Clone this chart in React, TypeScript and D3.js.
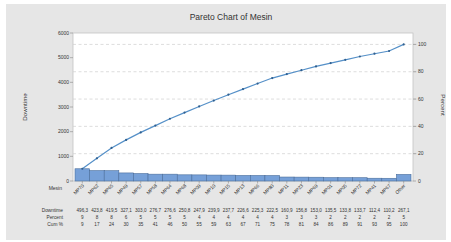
import React from "react";
import * as d3 from "d3";

// data
const categories = [
  "MP70", "MP62", "MP65", "MP49", "MP57", "MP58", "MP64", "MP68", "MP09", "MP10", "MP15", "MP13",
  "MP66", "MP80", "MP11", "MP23", "MP69", "MP01", "MP05", "MP72", "MP41", "MP67", "Other",
];
const downtime = [
  496.3, 423.8, 419.5, 327.1, 303.0, 276.7, 276.6, 250.8, 247.9, 239.9, 237.7, 226.6,
  225.3, 222.5, 160.9, 156.8, 153.0, 135.5, 133.8, 133.7, 112.4, 110.2, 267.1,
];
const percentRow = [9, 8, 8, 6, 5, 5, 5, 5, 4, 4, 4, 4, 4, 4, 3, 3, 3, 2, 2, 2, 2, 2, 5];
const cumRow = [9, 17, 24, 30, 35, 41, 46, 50, 55, 59, 63, 67, 71, 75, 78, 81, 84, 86, 89, 91, 93, 95, 100];
const leftTicks = [0, 1000, 2000, 3000, 4000, 5000, 6000];
const rightTicks = [0, 20, 40, 60, 80, 100];

const W = 451;
const H = 242;
const plot = {left: 73, right: 413, top: 33, bottom: 181};
const font = "'Liberation Sans', Arial, sans-serif";
const textCol = "#333333";

export default function App() {
  const x = d3.scaleBand<string>()
    .domain(categories)
    .range([plot.left + 2, plot.right - 2])
    .padding(0);
  const y = d3.scaleLinear().domain([0, 6000]).range([plot.bottom, plot.top]);
  const total = d3.sum(downtime);
  const yPct = d3.scaleLinear().domain([0, 100]).range([y(0), y(total)]);

  const cum = Array.from(d3.cumsum(downtime)).map((v) => (v / total) * 100);
  const pts: [number, number][] = categories.map((c, i) => [x(c)! + x.bandwidth() / 2, yPct(cum[i])]);
  const line = d3.line()(pts) || "";

  const cx = (c: string) => x(c)! + x.bandwidth() / 2;

  return (
    <svg width={W} height={H} style={{position: "absolute", left: 0, top: 0}} fontFamily={font}>
      <rect x={6} y={4} width={440} height={236} fill="#e6e6e6"/>
      <text x={231} y={20} textAnchor="middle" fontSize={8.5} fill={textCol}>Pareto Chart of Mesin</text>

      <rect x={plot.left} y={plot.top} width={plot.right - plot.left} height={plot.bottom - plot.top}
            fill="#ffffff" stroke="#c4c4c4" strokeWidth={0.8}/>

      {/* dashed grid from percent axis */}
      {rightTicks.filter((t) => t > 0).map((t) => (
        <line key={"g" + t} x1={plot.left} x2={plot.right + 4} y1={yPct(t)} y2={yPct(t)}
              stroke="#cfcfcf" strokeWidth={0.7} strokeDasharray="3,2.5"/>
      ))}

      {/* bars */}
      {categories.map((c, i) => (
        <rect key={c} x={x(c)} y={y(downtime[i])} width={x.bandwidth()} height={y(0) - y(downtime[i])}
              fill="#76a0d8" stroke="#4b6e9c" strokeWidth={0.6}/>
      ))}

      {/* cumulative line */}
      <path d={line} fill="none" stroke="#5590c8" strokeWidth={1.2}/>
      {pts.map((p, i) => (
        <circle key={"p" + i} cx={p[0]} cy={p[1]} r={1.1} fill="#2f5f8f"/>
      ))}

      {/* left axis */}
      {leftTicks.map((t) => (
        <g key={"l" + t}>
          <line x1={plot.left - 3} x2={plot.left} y1={y(t)} y2={y(t)} stroke="#888" strokeWidth={0.6}/>
          <text x={plot.left - 4} y={y(t) + 1.7} textAnchor="end" fontSize={5} fill={textCol}>{t}</text>
        </g>
      ))}
      <text transform={`translate(27,${(plot.top + plot.bottom) / 2}) rotate(-90)`} textAnchor="middle"
            fontSize={6.2} fill={textCol}>Downtime</text>

      {/* right axis */}
      {rightTicks.map((t) => (
        <g key={"r" + t}>
          <line x1={plot.right} x2={plot.right + 3} y1={yPct(t)} y2={yPct(t)} stroke="#888" strokeWidth={0.6}/>
          <text x={plot.right + 5} y={yPct(t) + 1.7} fontSize={5} fill={textCol}>{t}</text>
        </g>
      ))}
      <text transform={`translate(441,${(plot.top + plot.bottom) / 2 - 2}) rotate(90)`} textAnchor="middle"
            fontSize={6.2} fill={textCol}>Percent</text>

      {/* x axis */}
      <text x={62} y={190} textAnchor="end" fontSize={5} fill={textCol}>Mesin</text>
      {categories.map((c) => (
        <g key={"x" + c}>
          <line x1={cx(c)} x2={cx(c)} y1={plot.bottom} y2={plot.bottom + 2.5} stroke="#888" strokeWidth={0.6}/>
          <text transform={`translate(${cx(c) + 2},${plot.bottom + 5}) rotate(-45)`} textAnchor="end"
                fontSize={4.8} fill={textCol}>{c}</text>
        </g>
      ))}

      {/* table */}
      {[["Downtime", 212], ["Percent", 219], ["Cum %", 226]].map(([lbl, yy]) => (
        <text key={lbl as string} x={63} y={yy as number} textAnchor="end" fontSize={4.8} fill={textCol}>{lbl}</text>
      ))}
      {categories.map((c, i) => (
        <g key={"t" + c} fontSize={4.6} fill={textCol} textAnchor="middle">
          <text x={cx(c)} y={212}>{downtime[i].toFixed(1).replace(".", ",")}</text>
          <text x={cx(c)} y={219}>{percentRow[i]}</text>
          <text x={cx(c)} y={226}>{cumRow[i]}</text>
        </g>
      ))}
    </svg>
  );
}
